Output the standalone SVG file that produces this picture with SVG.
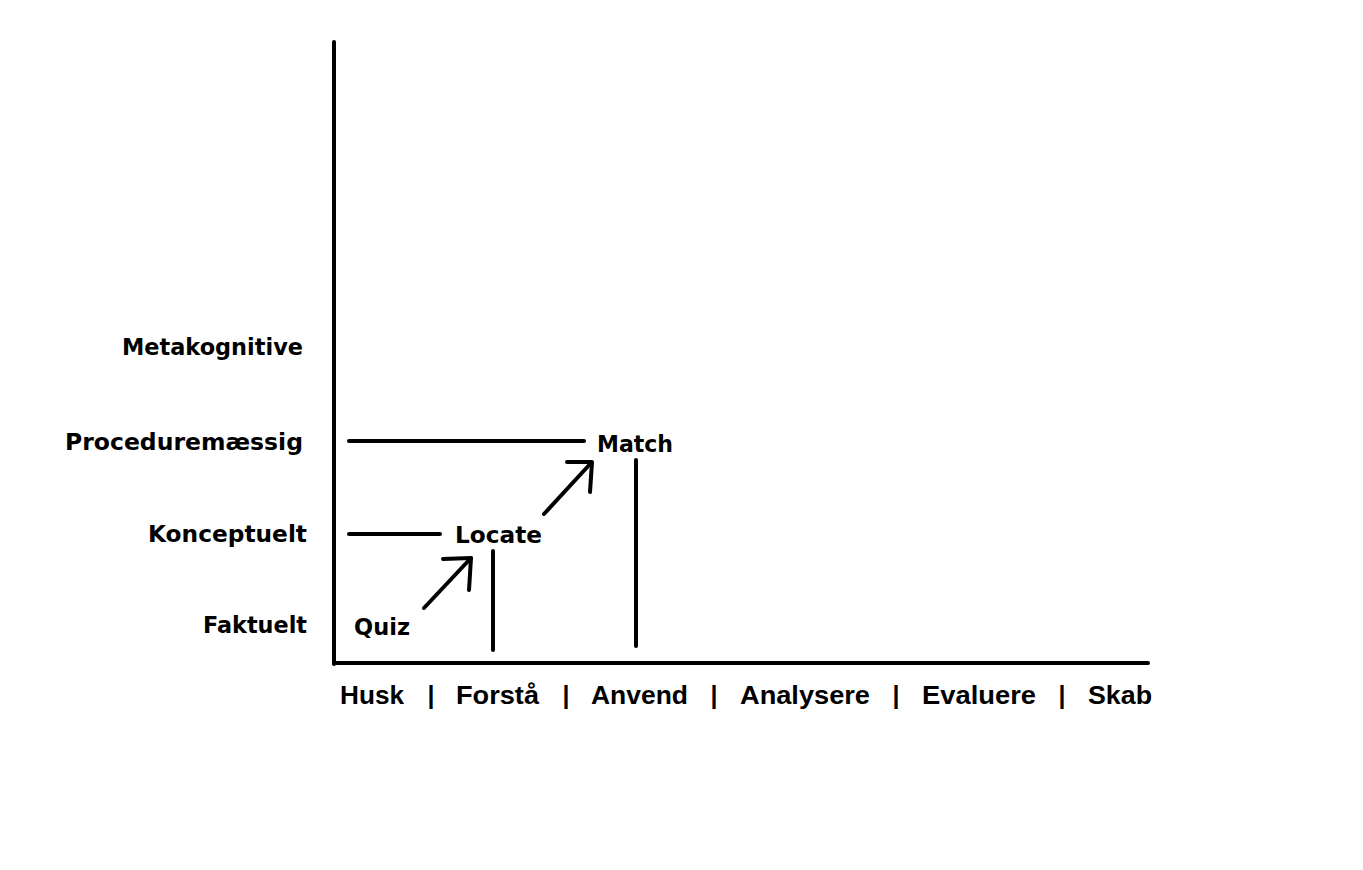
<svg xmlns="http://www.w3.org/2000/svg" width="1363" height="870" viewBox="0 0 1363 870">
<style>
.ax{stroke:#000;stroke-width:4;fill:none;stroke-linecap:round}
.ln{stroke:#000;stroke-width:4;fill:none;stroke-linecap:round;stroke-linejoin:round}
.lbl{font-family:"DejaVu Sans",Verdana,sans-serif;font-weight:bold;font-size:23px;fill:#000}
.bot{font-family:"Liberation Sans",Arial,sans-serif;font-weight:bold;font-size:25px;fill:#000}
</style>
<rect width="1363" height="870" fill="#fff"/>
<g id="axes">
<line class="ax" x1="334" y1="42" x2="334" y2="664"/>
<line class="ax" x1="334" y1="663" x2="1148" y2="663"/>
</g>
<g id="y-labels">
<text class="lbl" x="303" y="355" text-anchor="end" textLength="181" lengthAdjust="spacingAndGlyphs">Metakognitive</text>
<text class="lbl" x="303" y="450" text-anchor="end" textLength="238" lengthAdjust="spacingAndGlyphs">Proceduremæssig</text>
<text class="lbl" x="307" y="542" text-anchor="end" textLength="159" lengthAdjust="spacingAndGlyphs">Konceptuelt</text>
<text class="lbl" x="307" y="633" text-anchor="end" textLength="104" lengthAdjust="spacingAndGlyphs">Faktuelt</text>
</g>
<g id="x-labels">
<text class="bot" x="340" y="704" textLength="64" lengthAdjust="spacingAndGlyphs">Husk</text>
<text class="bot" x="431" y="704" text-anchor="middle">|</text>
<text class="bot" x="456" y="704" textLength="83" lengthAdjust="spacingAndGlyphs">Forstå</text>
<text class="bot" x="566" y="704" text-anchor="middle">|</text>
<text class="bot" x="591" y="704" textLength="97" lengthAdjust="spacingAndGlyphs">Anvend</text>
<text class="bot" x="714" y="704" text-anchor="middle">|</text>
<text class="bot" x="740" y="704" textLength="130" lengthAdjust="spacingAndGlyphs">Analysere</text>
<text class="bot" x="896" y="704" text-anchor="middle">|</text>
<text class="bot" x="922" y="704" textLength="114" lengthAdjust="spacingAndGlyphs">Evaluere</text>
<text class="bot" x="1062" y="704" text-anchor="middle">|</text>
<text class="bot" x="1088" y="704" textLength="64" lengthAdjust="spacingAndGlyphs">Skab</text>
</g>
<g id="quiz">
<text class="lbl" x="354" y="635" textLength="56" lengthAdjust="spacingAndGlyphs">Quiz</text>
</g>
<g id="locate">
<text class="lbl" x="455" y="543" textLength="87" lengthAdjust="spacingAndGlyphs">Locate</text>
</g>
<g id="match">
<text class="lbl" x="597" y="452" textLength="76" lengthAdjust="spacingAndGlyphs">Match</text>
</g>
<g id="connectors">
<line class="ln" x1="349" y1="441" x2="584" y2="441"/>
<line class="ln" x1="349" y1="534" x2="440" y2="534"/>
<line class="ln" x1="493" y1="551" x2="493" y2="650"/>
<line class="ln" x1="636" y1="460" x2="636" y2="646"/>
<line class="ln" x1="424" y1="608" x2="471" y2="558"/>
<polyline class="ln" points="443,559 471,558 469,590"/>
<line class="ln" x1="544" y1="514" x2="591" y2="463"/>
<polyline class="ln" points="567,462 592,462 590,492"/>
</g>
</svg>
